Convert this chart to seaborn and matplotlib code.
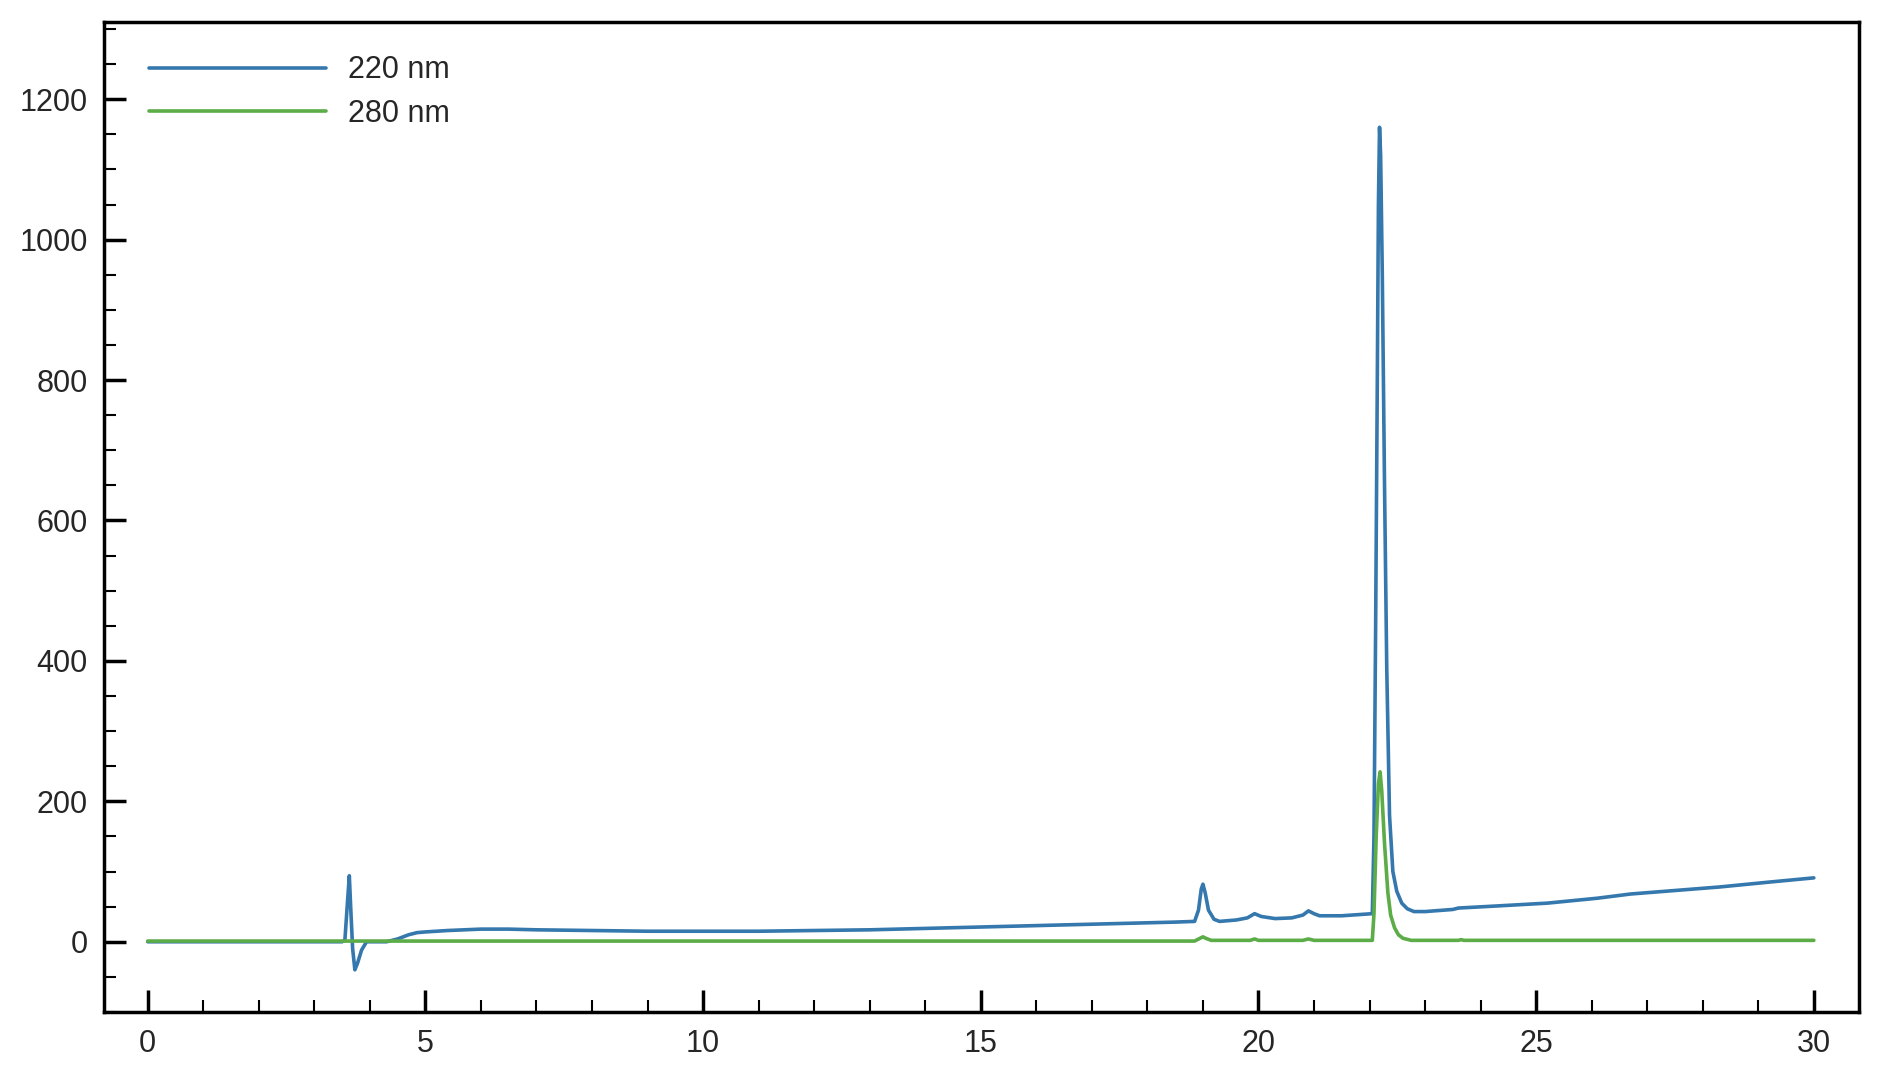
import numpy as np
import pandas as pd
import matplotlib
matplotlib.use("Agg")
import matplotlib.pyplot as plt
from matplotlib.ticker import MultipleLocator
import seaborn as sns

# chromatogram traces (time in min, signal)
t_220 = [0, 3.50, 3.55, 3.60, 3.63, 3.66, 3.69, 3.73, 3.78, 3.85, 3.94, 4.30, 4.50,
         4.70, 4.85, 5.0, 5.4, 6.0, 6.5, 7, 8, 9, 10, 11, 12, 13, 14, 15, 16, 17, 18,
         18.5, 18.85, 18.92, 18.97, 19.0, 19.04, 19.1, 19.2, 19.3, 19.6, 19.8, 19.93,
         20.05, 20.3, 20.6, 20.8, 20.9, 21.0, 21.1, 21.5, 22.05, 22.08, 22.11, 22.14,
         22.16, 22.18, 22.20, 22.23, 22.27, 22.31, 22.36, 22.42, 22.49, 22.58, 22.68,
         22.8, 23.0, 23.5, 23.6, 24.3, 25.2, 26.1, 26.7, 27.5, 28.3, 29.2, 30.0]
v_220 = [0, 0, 2, 60, 94, 40, -10, -40, -30, -12, 0, 0, 4,
         10, 13, 14, 16, 18, 18, 17, 16, 15, 15, 15, 16, 17, 19, 21, 23, 25, 27,
         28, 29, 45, 75, 82, 70, 45, 32, 29, 31, 34, 40,
         36, 33, 34, 38, 44, 40, 37, 37, 40, 150, 450, 800,
         1050, 1160, 1120, 950, 650, 390, 180, 100, 72, 55, 47,
         43, 43, 46, 48, 51, 55, 62, 68, 73, 78, 85, 91]

t_280 = [0, 18.85, 18.95, 19.0, 19.05, 19.15, 19.85, 19.93, 20.0, 20.8, 20.9, 21.0,
         22.05, 22.08, 22.12, 22.16, 22.19, 22.22, 22.27, 22.33, 22.38, 22.45, 22.52,
         22.6, 22.75, 23.6, 23.65, 23.7, 30.0]
v_280 = [1, 1, 5, 7, 5, 2, 2, 4, 2, 2, 4, 2,
         2, 40, 150, 225, 242, 215, 140, 70, 38, 20, 10,
         5, 2, 2, 3, 2, 2]

series = ["220 nm", "280 nm"]
colors = ["#3578ad", "#5cac47"]

df = pd.concat([
    pd.DataFrame({"time": t_220, "signal": v_220, "wl": series[0]}),
    pd.DataFrame({"time": t_280, "signal": v_280, "wl": series[1]}),
], ignore_index=True)

sns.set_style("ticks")
plt.rcParams["font.family"] = ["Liberation Sans", "DejaVu Sans"]

fig = plt.figure(figsize=(18.81, 10.72), dpi=100)
ax = fig.add_axes([0.0555, 0.056, 0.933, 0.9235])

sns.lineplot(data=df, x="time", y="signal", hue="wl", hue_order=series,
             palette=colors, estimator=None, sort=False, linewidth=2.6, ax=ax)

ax.set_xlim(-0.78, 30.82)
ax.set_ylim(-100, 1310)
ax.xaxis.set_major_locator(MultipleLocator(5))
ax.xaxis.set_minor_locator(MultipleLocator(1))
ax.yaxis.set_major_locator(MultipleLocator(200))
ax.yaxis.set_minor_locator(MultipleLocator(50))
ax.tick_params(which="major", direction="in", length=16, width=2.5,
               labelsize=22, pad=12, color="black")
ax.tick_params(which="minor", direction="in", length=8.5, width=1.5, color="black")
ax.set_xlabel("")
ax.set_ylabel("")
for s in ax.spines.values():
    s.set_visible(True)
    s.set_linewidth(2.5)
    s.set_color("black")

handles, labels = ax.get_legend_handles_labels()
ax.legend(handles, labels, loc="upper left", bbox_to_anchor=(0.010, 0.994),
          frameon=False, fontsize=22, handlelength=5.77, handletextpad=0.72,
          labelspacing=0.45)

fig.savefig("out.png", dpi=100)
